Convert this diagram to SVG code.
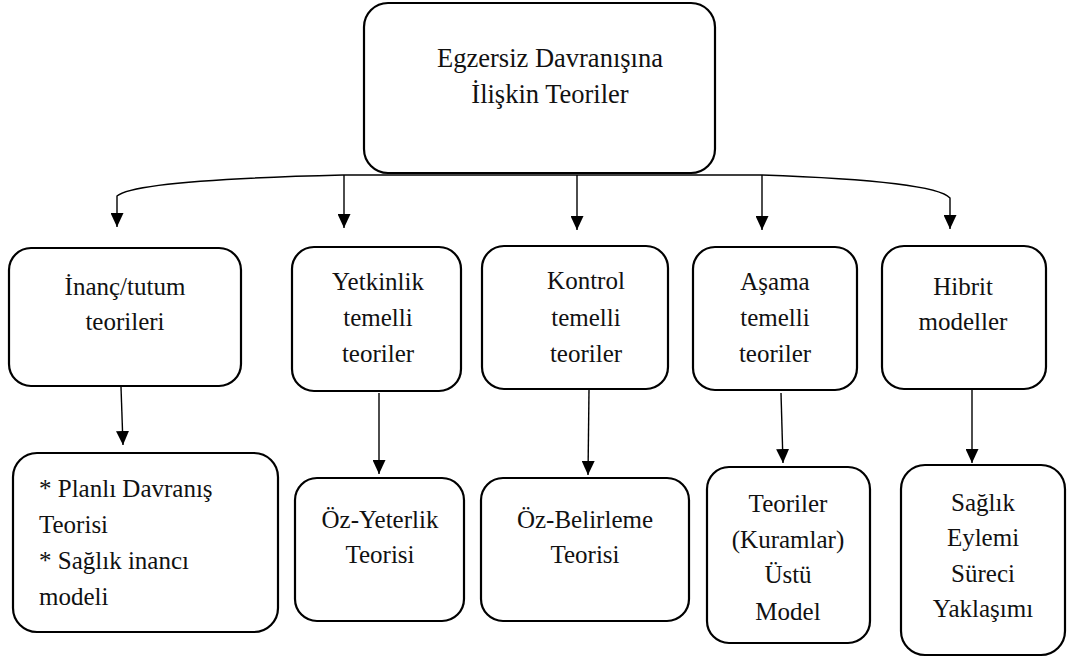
<svg xmlns="http://www.w3.org/2000/svg" width="1089" height="659" viewBox="0 0 1089 659">
<style>
.box{fill:#fff;stroke:#000;stroke-width:2.2}
text{font-family:'Liberation Serif','DejaVu Serif',serif;font-size:25px;fill:#111}
.t{text-anchor:middle}
.title{font-size:26.5px}
.c{fill:none;stroke:#000;stroke-width:1.4}
</style>
<defs>
<marker id="ah2" viewBox="0 0 14 13" refX="14" refY="6.5" markerWidth="14" markerHeight="13" markerUnits="userSpaceOnUse" orient="auto">
<path d="M0,0 L14,6.5 L0,13 z" fill="#000"/>
</marker>
</defs>
<rect width="1089" height="659" fill="#fff"/>
<g id="connectors">
<path class="c" d="M343,175 L762,175"/>
<path class="c" d="M343,175 Q135,180 117,196 L117,227" marker-end="url(#ah2)"/>
<path class="c" d="M762,175 Q935,181 950,198 L950,229" marker-end="url(#ah2)"/>
<path class="c" d="M344,175 L344,228" marker-end="url(#ah2)"/>
<path class="c" d="M577,175 L577,230" marker-end="url(#ah2)"/>
<path class="c" d="M762,175 L762,230" marker-end="url(#ah2)"/>
<path class="c" d="M121,387 L123,445" marker-end="url(#ah2)"/>
<path class="c" d="M379,393 L379,474" marker-end="url(#ah2)"/>
<path class="c" d="M589,390 L588,475" marker-end="url(#ah2)"/>
<path class="c" d="M781,393 L783,463" marker-end="url(#ah2)"/>
<path class="c" d="M972,390 L972,463" marker-end="url(#ah2)"/>
</g>
<g id="root">
<rect class="box" x="364" y="3" width="351" height="170" rx="24"/>
<text class="t title" x="550" y="67" font-family="Liberation Serif">Egzersiz Davranışına</text>
<text class="t title" x="550" y="103" font-family="Liberation Serif">İlişkin Teoriler</text>
</g>
<g id="inanc">
<rect class="box" x="9" y="248" width="232" height="138" rx="22"/>
<text class="t" x="125" y="295">İnanç/tutum</text>
<text class="t" x="125" y="330">teorileri</text>
</g>
<g id="yetkinlik">
<rect class="box" x="292" y="247" width="169" height="144" rx="22"/>
<text class="t" x="378" y="290">Yetkinlik</text>
<text class="t" x="378" y="326">temelli</text>
<text class="t" x="378" y="362">teoriler</text>
</g>
<g id="kontrol">
<rect class="box" x="482" y="246" width="186" height="143" rx="22"/>
<text class="t" x="586" y="289">Kontrol</text>
<text class="t" x="586" y="326">temelli</text>
<text class="t" x="586" y="362">teoriler</text>
</g>
<g id="asama">
<rect class="box" x="693" y="247" width="164" height="143" rx="22"/>
<text class="t" x="775" y="290">Aşama</text>
<text class="t" x="775" y="326">temelli</text>
<text class="t" x="775" y="362">teoriler</text>
</g>
<g id="hibrit">
<rect class="box" x="882" y="246" width="164" height="143" rx="22"/>
<text class="t" x="963" y="295">Hibrit</text>
<text class="t" x="963" y="330">modeller</text>
</g>
<g id="planli">
<rect class="box" x="13" y="453" width="265" height="179" rx="24"/>
<text x="39" y="497">* Planlı Davranış</text>
<text x="39" y="533">Teorisi</text>
<text x="39" y="569">* Sağlık inancı</text>
<text x="39" y="605">modeli</text>
</g>
<g id="ozyeterlik">
<rect class="box" x="295" y="478" width="169" height="143" rx="22"/>
<text class="t" x="380" y="528">Öz-Yeterlik</text>
<text class="t" x="380" y="563">Teorisi</text>
</g>
<g id="ozbelirleme">
<rect class="box" x="481" y="478" width="208" height="143" rx="22"/>
<text class="t" x="585" y="528">Öz-Belirleme</text>
<text class="t" x="585" y="563">Teorisi</text>
</g>
<g id="ustmodel">
<rect class="box" x="707" y="467" width="163" height="176" rx="22"/>
<text class="t" x="788" y="512">Teoriler</text>
<text class="t" x="788" y="548">(Kuramlar)</text>
<text class="t" x="788" y="583">Üstü</text>
<text class="t" x="788" y="620">Model</text>
</g>
<g id="saglik">
<rect class="box" x="901" y="465" width="164" height="190" rx="24"/>
<text class="t" x="983" y="511">Sağlık</text>
<text class="t" x="983" y="546">Eylemi</text>
<text class="t" x="983" y="582">Süreci</text>
<text class="t" x="983" y="617">Yaklaşımı</text>
</g>
</svg>
